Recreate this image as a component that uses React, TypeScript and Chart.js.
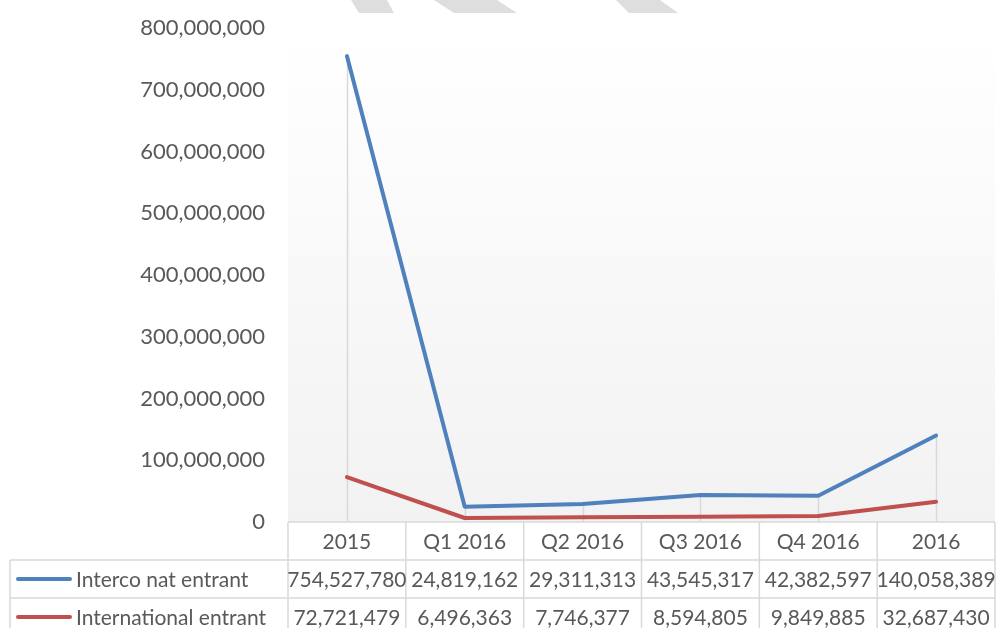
import React, { useEffect, useRef } from "react";
import { Chart, registerables } from "chart.js";

Chart.register(...registerables);

const categories = ["2015", "Q1 2016", "Q2 2016", "Q3 2016", "Q4 2016", "2016"];
const seriesNames = ["Interco nat entrant", "International entrant"];
const intercoNatEntrant = [754527780, 24819162, 29311313, 43545317, 42382597, 140058389];
const internationalEntrant = [72721479, 6496363, 7746377, 8594805, 9849885, 32687430];
const seriesColors = ["#4f81bd", "#c0504d"];
const yMax = 800000000;
const yStep = 100000000;

const FONT = "Lato, 'Open Sans', sans-serif";
const TEXT = "#595959";
const GRID = "#d9d9d9";

const fmt = (v: number) => v.toLocaleString("en-US");

const watermarkPlugin = {
  id: "watermark",
  beforeDraw(chart: any) {
    const ctx = chart.ctx;
    ctx.save();
    ctx.fillStyle = "#dedede";
    const shapes = [
      [351, 387, 394, 359],
      [434, 497, 517, 454],
      [616, 660, 678, 629],
    ];
    for (const s of shapes) {
      ctx.beginPath();
      ctx.moveTo(s[0], 0);
      ctx.lineTo(s[1], 0);
      ctx.lineTo(s[2], 13);
      ctx.lineTo(s[3], 13);
      ctx.closePath();
      ctx.fill();
    }
    ctx.restore();
  },
};

const plotBgPlugin = {
  id: "plotBg",
  beforeDatasetsDraw(chart: any) {
    const { ctx, chartArea } = chart;
    ctx.save();
    const g = ctx.createLinearGradient(0, chartArea.top, 0, chartArea.bottom);
    g.addColorStop(0, "#ffffff");
    g.addColorStop(1, "#f2f2f2");
    ctx.fillStyle = g;
    ctx.fillRect(chartArea.left, chartArea.top, chartArea.right - chartArea.left, chartArea.bottom - chartArea.top);
    const xs = chart.scales.x;
    const ys = chart.scales.y;
    ctx.strokeStyle = GRID;
    ctx.lineWidth = 1.5;
    categories.forEach((_, i) => {
      const maxV = Math.max(intercoNatEntrant[i], internationalEntrant[i]);
      const px = Math.round(xs.getPixelForValue(i)) + 0.5;
      ctx.beginPath();
      ctx.moveTo(px, ys.getPixelForValue(maxV));
      ctx.lineTo(px, chartArea.bottom);
      ctx.stroke();
    });
    ctx.restore();
  },
};

const tablePlugin = {
  id: "dataTable",
  afterDraw(chart: any) {
    const { ctx, chartArea } = chart;
    const xs = chart.scales.x;
    const n = categories.length;
    const colW = (chartArea.right - chartArea.left) / n;
    const rowH = 38;
    const top = chartArea.bottom;
    const labelLeft = 10;
    const right = chartArea.right;
    ctx.save();
    ctx.strokeStyle = GRID;
    ctx.lineWidth = 1.5;
    const hline = (y: number, x0: number) => {
      ctx.beginPath();
      ctx.moveTo(x0, y);
      ctx.lineTo(right, y);
      ctx.stroke();
    };
    const vline = (x: number, y0: number, y1: number) => {
      ctx.beginPath();
      ctx.moveTo(x, y0);
      ctx.lineTo(x, y1);
      ctx.stroke();
    };
    hline(top, chartArea.left);
    hline(top + rowH, labelLeft);
    hline(top + 2 * rowH, labelLeft);
    hline(top + 3 * rowH, labelLeft);
    for (let i = 0; i <= n; i++) {
      const bx = i === n ? right : xs.getPixelForValue(i) - colW / 2;
      vline(bx, top, top + 3 * rowH);
    }
    vline(labelLeft, top + rowH, top + 3 * rowH);

    ctx.fillStyle = TEXT;
    ctx.font = `21px ${FONT}`;
    ctx.textAlign = "center";
    ctx.textBaseline = "middle";
    categories.forEach((c, i) => {
      ctx.fillText(c, xs.getPixelForValue(i), top + rowH / 2 + 1);
    });
    const rows = [intercoNatEntrant, internationalEntrant];
    rows.forEach((vals, r) => {
      const cy = top + rowH * (r + 1) + rowH / 2 + 1;
      vals.forEach((v, i) => {
        ctx.fillText(fmt(v), xs.getPixelForValue(i), cy);
      });
      ctx.save();
      ctx.strokeStyle = seriesColors[r];
      ctx.lineWidth = 4;
      ctx.lineCap = "round";
      ctx.beginPath();
      ctx.moveTo(18, cy - 1);
      ctx.lineTo(70, cy - 1);
      ctx.stroke();
      ctx.restore();
      ctx.textAlign = "left";
      ctx.fillText(seriesNames[r], 76, cy);
      ctx.textAlign = "center";
    });
    ctx.restore();
  },
};

export default function App() {
  const ref = useRef<HTMLCanvasElement | null>(null);
  useEffect(() => {
    document.body.style.margin = "0";
    if (!ref.current) return;
    const chart = new Chart(ref.current, {
      type: "line",
      data: {
        labels: categories,
        datasets: [
          {
            label: seriesNames[0],
            data: intercoNatEntrant,
            borderColor: seriesColors[0],
            backgroundColor: seriesColors[0],
            borderWidth: 4,
            pointRadius: 0,
            tension: 0,
            borderCapStyle: "round",
            borderJoinStyle: "round",
          },
          {
            label: seriesNames[1],
            data: internationalEntrant,
            borderColor: seriesColors[1],
            backgroundColor: seriesColors[1],
            borderWidth: 4,
            pointRadius: 0,
            tension: 0,
            borderCapStyle: "round",
            borderJoinStyle: "round",
          },
        ],
      },
      options: {
        animation: false,
        responsive: true,
        maintainAspectRatio: false,
        layout: { padding: { left: 0, right: 4, top: 28, bottom: 106 } },
        plugins: { legend: { display: false }, tooltip: { enabled: false } },
        scales: {
          x: {
            type: "category",
            display: false,
            offset: true,
            grid: { display: false },
          },
          y: {
            min: 0,
            max: yMax,
            border: { display: false },
            grid: { display: false, drawTicks: false },
            ticks: {
              stepSize: yStep,
              padding: 23,
              color: TEXT,
              font: { family: FONT, size: 22 },
              callback: (v: any) => fmt(Number(v)),
            },
            afterFit: (scale: any) => {
              scale.width = 288;
              scale.paddingTop = 0;
              scale.paddingBottom = 0;
            },
          },
        },
      },
      plugins: [watermarkPlugin, plotBgPlugin, tablePlugin],
    } as any);
    return () => chart.destroy();
  }, []);
  return (
    <div style={{ position: "relative", width: 999, height: 628 }}>
      <canvas ref={ref} />
    </div>
  );
}
